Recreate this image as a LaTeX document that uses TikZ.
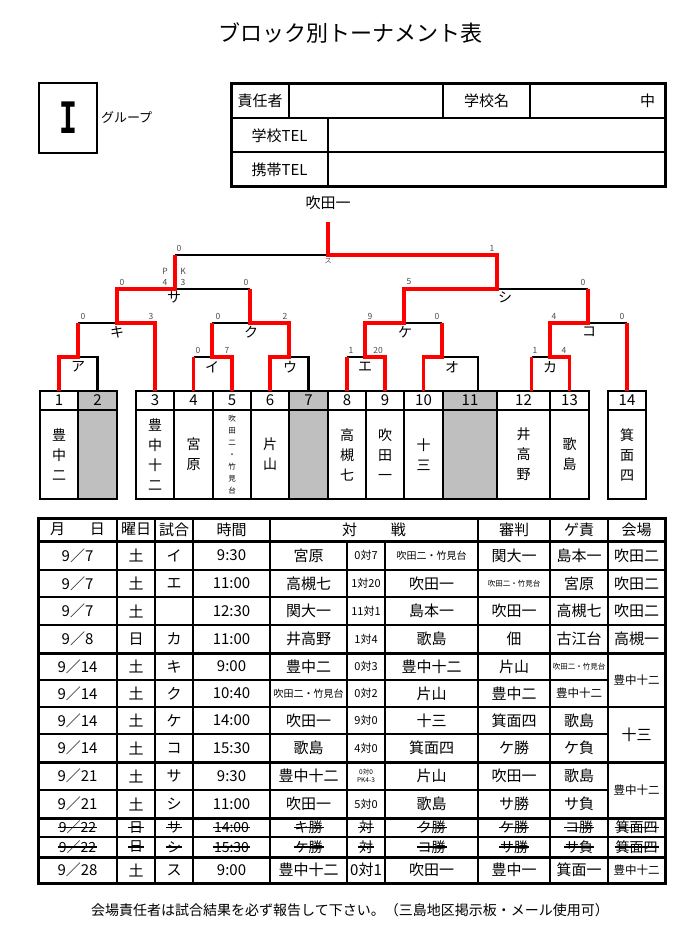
\documentclass[tikz,border=0pt]{standalone}
\usepackage{fontspec}
\setmainfont{Noto Sans CJK JP}
\newfontfamily\monofont{Liberation Mono}
\usetikzlibrary{positioning}
\newcommand\fsz[1]{\fontsize{#1}{#1}\selectfont}
\newcommand\nmfont{\fontsize{14}{20}\selectfont}
\newcommand\tyfont{\fontsize{7.5}{12}\selectfont}
\newcommand\smtxt[1]{{\fsz{10}#1}}
\newcommand\titxt[1]{{\fsz{7.5}#1}}
\newcommand\mdtxt[1]{{\fsz{11.5}#1}}
\newcommand\pkres{{\fsz{6.5}\shortstack{0対0\\PK4-3}}}

\begin{document}
\begin{tikzpicture}[x=1pt,y=-1pt,every node/.style={inner sep=0pt,outer sep=0pt,font=\fsz{15}},
  cell/.style={draw,line width=2pt,minimum height=34.3pt},
  num/.style={draw,line width=2pt,minimum height=19pt,font=\fsz{15}},
  nm/.style={draw,line width=2pt,minimum height=89pt,align=center},
  blk/.style={line width=2.4pt},
  win/.style={line width=3.6pt,red},
  sc/.style={font=\fsz{8.5},text=black!70},
  mlab/.style={font=\fsz{14}},
  scr/.style={font=\fsz{11}},
  rule/.style={line width=2pt},
  heavy/.style={line width=3pt},
  strk/.style={line width=1.4pt}]
\useasboundingbox (0,0) rectangle (694,931);
\node[font=\fsz{22}] (title) at (350,33) {ブロック別トーナメント表};
\node[draw,line width=2.5pt,minimum width=58pt,minimum height=70pt] (grp) at (68,118) {\scalebox{0.62}[1]{\monofont\bfseries\fsz{48}I}};
\node[font=\fsz{13},anchor=west] (grplab) at (101,117) {グループ};
\node[cell,minimum width=58pt] (c11) at (260,101) {責任者};
\node[cell,minimum width=154pt,right=0pt of c11] (c12) {};
\node[cell,minimum width=87pt,right=0pt of c12] (c13) {学校名};
\node[cell,minimum width=135pt,right=0pt of c13] (c14) {};
\node[anchor=east] (c14t) at ([xshift=-10pt]c14.east) {中};
\node[cell,minimum width=97pt,anchor=north west] (c21) at (c11.south west) {学校TEL};
\node[cell,minimum width=337pt,right=0pt of c21] (c22) {};
\node[cell,minimum width=97pt,anchor=north west] (c31) at (c21.south west) {携帯TEL};
\node[cell,minimum width=337pt,right=0pt of c31] (c32) {};
\draw[heavy] (c11.north west) rectangle (c32.south east);
\foreach \i/\l/\r/\fc/\fs/\nm in {1/40/78/white/\nmfont/{豊\\中\\二},2/78/117/black!25/\nmfont/{},
  3/136/174/white/\nmfont/{豊\\中\\十\\二},4/174/213/white/\nmfont/{宮\\原},
  5/213/251/white/\tyfont/{吹\\田\\二\\・\\竹\\見\\台},6/251/289/white/\nmfont/{片\\山},
  7/289/328/black!25/\nmfont/{},8/328/366/white/\nmfont/{高\\槻\\七},9/366/404/white/\nmfont/{吹\\田\\一},
  10/404/443/white/\nmfont/{十\\三},11/443/497/black!25/\nmfont/{},12/497/550/white/\nmfont/{井\\高\\野},
  13/550/589/white/\nmfont/{歌\\島},14/608/646/white/\nmfont/{箕\\面\\四}}{
  \node[num,fill=\fc,minimum width={\r-\l}] (t\i) at ({(\l+\r)/2},400.5) {\i};
  \node[nm,fill=\fc,font=\fs,minimum width={\r-\l},below=0pt of t\i] (n\i) {\nm};
}
\coordinate (p11) at ([xshift=8pt]t11.north);
\coordinate (p12) at ([xshift=8pt]t12.north);
\node (champ) at (328,203) {吹田一};
\coordinate (ctop) at (328,222);
\coordinate (mSu) at (328,255);
\coordinate (mSa) at (175,289);
\coordinate (mShi) at (497,289);
\coordinate (mKi) at (117,323);
\coordinate (mKu) at (250,323);
\coordinate (mKe) at (404,323);
\coordinate (mKo) at (588,323);
\coordinate (mA) at (78,357);
\coordinate (mI) at (212,357);
\coordinate (mU) at (289,357);
\coordinate (mE) at (365,357);
\coordinate (mO) at (442,357);
\coordinate (mKa) at (550,357);
\draw[blk] (mA) -| (t2.north);
\draw[blk] (t4.north |- mI) -- (mI);
\draw[blk] (mU) -| (t7.north);
\draw[blk] (t8.north |- mE) -- (mE);
\draw[blk] (mO) -| (p11);
\draw[blk] (p12 |- mKa) -- (mKa);
\draw[blk] (mA |- mKi) -- (mKi);
\draw[blk] (mI |- mKu) -- (mKu);
\draw[blk] (mKe) -- (mO |- mKe);
\draw[blk] (mKo) -- (t14.north |- mKo);
\draw[blk] (mSa) -- (mKu |- mSa);
\draw[blk] (mShi) -- (mKo |- mShi);
\draw[blk] (mSa |- mSu) -- (mSu);
\draw[win] (t9.north) |- (mE) |- (mKe) |- (mShi) |- (mSu) -- (ctop);
\draw[win] (t3.north) |- (mKi) |- (mSa) -- (mSa |- mSu);
\draw[win] (t6.north) |- (mU) |- (mKu) -- (mKu |- mSa);
\draw[win] (t5.north) |- (mI) -- (mI |- mKu);
\draw[win] (t4.north) -- (t4.north |- mI);
\draw[win] (t1.north) |- (mA) -- (mA |- mKi);
\draw[win] (t8.north) -- (t8.north |- mE);
\draw[win] (t10.north) |- (mO) -- (mO |- mKe);
\draw[win] (p12) -- (p12 |- mKa);
\draw[win] (t13.north) |- (mKa) |- (mKo) -- (mKo |- mShi);
\draw[win] (t14.north) -- (t14.north |- mKo);
\foreach \n/\x/\y/\s in {1/179/248/0,2/492/248/1,3/122/282/0,4/165/271/P,5/165/282/4,6/183/271/K,7/183/282/3,
  8/246/282/0,9/409/282/5,10/583/282/0,11/83/316/0,12/151/316/3,13/218/316/0,14/285/316/2,15/370/316/9,
  16/437/316/0,17/554/316/4,18/622/316/0,19/198/350/0,20/227/350/7,21/351/350/1,22/378/350/20,
  23/535/350/1,24/564/350/4}
  \node[sc] (sc\n) at (\x,\y) {\s};
\node[font=\fsz{7},text=black!70] (lbSu) at (328,261) {ス};
\foreach \n/\x/\y/\s in {Sa/174/297/サ,Shi/505/297/シ,Ki/117/332/キ,Ku/251/332/ク,Ke/405/332/ケ,Ko/589/332/コ,
  A/78/367/ア,I/212/367/イ,U/290/367/ウ,E/365/367/エ,O/452/367/オ,Ka/550/367/カ}
  \node[mlab] (lb\n) at (\x,\y) {\s};
\draw[heavy] (38,518) rectangle (665,883);
\foreach \y in {541,653,762,818,857} \draw[heavy] (38,\y) -- (665,\y);
\foreach \y in {570,597,625,707,837} \draw[rule] (38,\y) -- (665,\y);
\foreach \y in {680,734,790} \draw[rule] (38,\y) -- (608,\y);
\foreach \x in {117,155,193,270,478,550,608} \draw[rule] (\x,518) -- (\x,883);
\foreach \x in {347,385} \draw[rule] (\x,541) -- (\x,883);
\node (h1) at (77.5,529.5) {月\hspace{25pt}日};
\node (h2) at (136,529.5) {曜日};
\node (h3) at (174,529.5) {試合};
\node (h4) at (231.5,529.5) {時間};
\node (h5) at (374,529.5) {対\hspace{34pt}戦};
\node (h6) at (514,529.5) {審判};
\node (h7) at (579,529.5) {ゲ責};
\node (h8) at (636.5,529.5) {会場};
\foreach \n/\y/\a/\b/\c/\d/\e/\f/\g/\h/\k in {
  1/555.5/9／7/土/イ/9:30/宮原/0対7/\smtxt{吹田二・竹見台}/関大一/島本一,
  2/583.5/9／7/土/エ/11:00/高槻七/1対20/吹田一/\titxt{吹田二・竹見台}/宮原,
  3/611/9／7/土/{}/12:30/関大一/11対1/島本一/吹田一/高槻七,
  4/639/9／8/日/カ/11:00/井高野/1対4/歌島/佃/古江台,
  5/666.5/9／14/土/キ/9:00/豊中二/0対3/豊中十二/片山/\titxt{吹田二・竹見台},
  6/693.5/9／14/土/ク/10:40/\smtxt{吹田二・竹見台}/0対2/片山/豊中二/\mdtxt{豊中十二},
  7/720.5/9／14/土/ケ/14:00/吹田一/9対0/十三/箕面四/歌島,
  8/748/9／14/土/コ/15:30/歌島/4対0/箕面四/ケ勝/ケ負,
  9/776/9／21/土/サ/9:30/豊中十二/\pkres/片山/吹田一/歌島,
  10/804/9／21/土/シ/11:00/吹田一/5対0/歌島/サ勝/サ負,
  13/870/9／28/土/ス/9:00/豊中十二/{\fsz{15}0対1}/吹田一/豊中一/箕面一}{
  \node (r\n-1) at (77.5,\y) {\a};
  \node (r\n-2) at (136,\y) {\b};
  \node (r\n-3) at (174,\y) {\c};
  \node (r\n-4) at (231.5,\y) {\d};
  \node (r\n-5) at (308.5,\y) {\e};
  \node[scr] (r\n-6) at (366,\y) {\f};
  \node (r\n-7) at (431.5,\y) {\g};
  \node (r\n-8) at (514,\y) {\h};
  \node (r\n-9) at (579,\y) {\k};
}
\node (v1) at (636.5,555.5) {吹田二};
\node (v2) at (636.5,583.5) {吹田二};
\node (v3) at (636.5,611) {吹田二};
\node (v4) at (636.5,639) {高槻一};
\node[font=\fsz{11.5}] (v5) at (636.5,680) {豊中十二};
\node (v7) at (636.5,734.5) {十三};
\node[font=\fsz{11.5}] (v9) at (636.5,790) {豊中十二};
\node[font=\fsz{11.5}] (v13) at (636.5,870) {豊中十二};
\foreach \n/\y/\a/\b/\c/\d/\e/\f/\g/\h/\k/\v in {
  11/827.5/9／22/日/サ/14:00/キ勝/対/ク勝/ケ勝/コ勝/箕面四,
  12/847/9／22/日/シ/15:30/ケ勝/対/コ勝/サ勝/サ負/箕面四}{
  \node[font=\fsz{14}] (r\n-1) at (77.5,\y) {\a};
  \node[font=\fsz{14}] (r\n-2) at (136,\y) {\b};
  \node[font=\fsz{14}] (r\n-3) at (174,\y) {\c};
  \node[font=\fsz{14}] (r\n-4) at (231.5,\y) {\d};
  \node[font=\fsz{14}] (r\n-5) at (308.5,\y) {\e};
  \node[font=\fsz{14}] (r\n-6) at (366,\y) {\f};
  \node[font=\fsz{14}] (r\n-7) at (431.5,\y) {\g};
  \node[font=\fsz{14}] (r\n-8) at (514,\y) {\h};
  \node[font=\fsz{14}] (r\n-9) at (579,\y) {\k};
  \node[font=\fsz{14}] (r\n-10) at (636.5,\y) {\v};
  \foreach \j in {1,...,10}
    \draw[strk] ([xshift=-1pt]r\n-\j.west) -- ([xshift=1pt]r\n-\j.east);
}
\node[font=\fsz{14}] (foot) at (350,910) {会場責任者は試合結果を必ず報告して下さい。（三島地区掲示板・メール使用可）};
\end{tikzpicture}
\end{document}
